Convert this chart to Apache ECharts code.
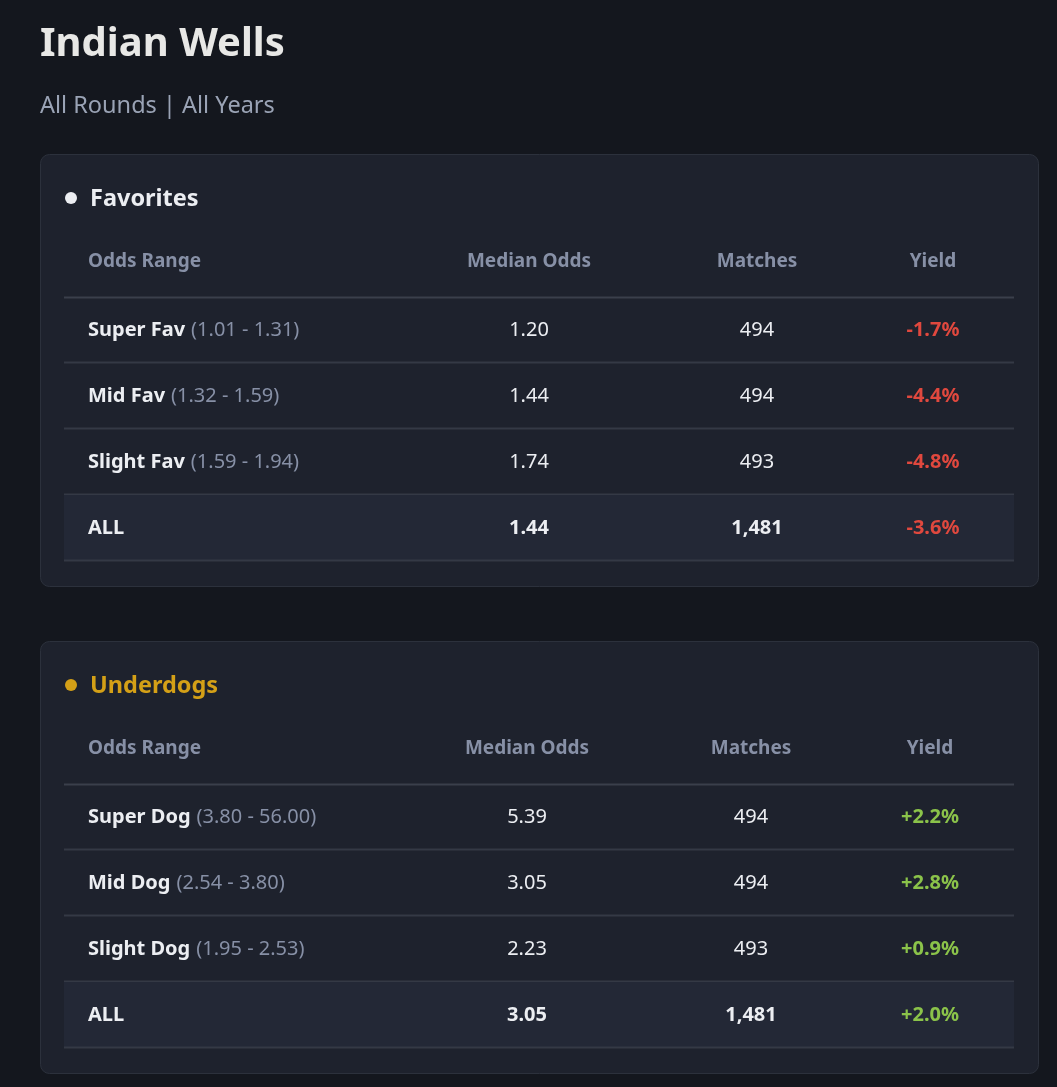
<!DOCTYPE html>
<html>
<head>
<meta charset="utf-8">
<script src="https://cdn.jsdelivr.net/npm/echarts@6/dist/echarts.min.js"></script>
<style>
  html, body { margin: 0; padding: 0; background: #14171e; }
  #main { width: 1057px; height: 1087px; }
</style>
</head>
<body>
<div id="main"></div>
<script>
// table data
var columns = ["Odds Range", "Median Odds", "Matches", "Yield"];

var favLabels = ["Super Fav", "Mid Fav", "Slight Fav", "ALL"];
var favRanges = ["(1.01 - 1.31)", "(1.32 - 1.59)", "(1.59 - 1.94)", ""];
var favMedian = [1.20, 1.44, 1.74, 1.44];
var favMatches = [494, 494, 493, 1481];
var favYield = [-1.7, -4.4, -4.8, -3.6];

var dogLabels = ["Super Dog", "Mid Dog", "Slight Dog", "ALL"];
var dogRanges = ["(3.80 - 56.00)", "(2.54 - 3.80)", "(1.95 - 2.53)", ""];
var dogMedian = [5.39, 3.05, 2.23, 3.05];
var dogMatches = [494, 494, 493, 1481];
var dogYield = [2.2, 2.8, 0.9, 2.0];

var FONT = "'Noto Sans', sans-serif";
var WHITE = "#eceef2";
var MUTED = "#8790a6";
var RED = "#e0483e";
var GREEN = "#8bc34a";
var GOLD = "#d4a017";

function fmtInt(n) { return n.toLocaleString("en-US"); }
function fmtYield(v) { return (v > 0 ? "+" : "") + v.toFixed(1) + "%"; }

// table layout: card top, header line y, column x (left for first, centre for rest)
var tables = [
  { title: "Favorites", dot: WHITE, titleColor: WHITE, cardTop: 154, lineY: 297,
    cols: [24, 465, 693, 869],
    labels: favLabels, ranges: favRanges, median: favMedian, matches: favMatches, yld: favYield },
  { title: "Underdogs", dot: GOLD, titleColor: GOLD, cardTop: 641, lineY: 784,
    cols: [24, 463, 687, 866],
    labels: dogLabels, ranges: dogRanges, median: dogMedian, matches: dogMatches, yld: dogYield }
];

var ROW_H = 66;
var TABLE_LEFT = 64, TABLE_W = 950;

var grids = [], xAxes = [], yAxes = [], series = [], graphics = [];

graphics.push({ type: "text", x: 40, y: 45, z: 5,
  style: { text: "Indian Wells", fill: "#e8e8e6", font: "bold 40px " + FONT, textVerticalAlign: "middle" } });
graphics.push({ type: "text", x: 40, y: 106, z: 5,
  style: { text: "All Rounds | All Years", fill: "#9aa3b5", font: "23.5px " + FONT, textVerticalAlign: "middle" } });

tables.forEach(function (t, ti) {
  var n = t.labels.length;
  grids.push({ left: TABLE_LEFT, width: TABLE_W, top: t.lineY, height: n * ROW_H });
  xAxes.push({ gridIndex: ti, type: "value", min: 0, max: TABLE_W, show: false });
  yAxes.push({ gridIndex: ti, type: "category", data: t.labels, inverse: true, show: false });

  // card
  graphics.push({ type: "rect", z: 0,
    shape: { x: 40.5, y: t.cardTop + 0.5, width: 998, height: 432, r: 9 },
    style: { fill: "#1e222d", stroke: "#2c313c", lineWidth: 1 } });
  graphics.push({ type: "circle", z: 5,
    shape: { cx: 71, cy: t.cardTop + 44, r: 6 }, style: { fill: t.dot } });
  graphics.push({ type: "text", z: 5, x: 90, y: t.cardTop + 45,
    style: { text: t.title, fill: t.titleColor, font: "bold 23.5px " + FONT, textVerticalAlign: "middle" } });
  // column headers
  columns.forEach(function (c, ci) {
    graphics.push({ type: "text", z: 5, x: TABLE_LEFT + t.cols[ci], y: t.lineY - 35,
      style: { text: c, fill: MUTED, font: "bold 19px " + FONT,
        textAlign: ci === 0 ? "left" : "center", textVerticalAlign: "middle" } });
  });
  graphics.push({ type: "line", z: 5,
    shape: { x1: TABLE_LEFT, y1: t.lineY + 0.5, x2: TABLE_LEFT + TABLE_W, y2: t.lineY + 0.5 },
    style: { stroke: "#3a3f4b", lineWidth: 2 } });

  series.push({
    type: "custom",
    xAxisIndex: ti, yAxisIndex: ti,
    data: t.labels.map(function (l, i) { return [0, i]; }),
    renderItem: function (params, api) {
      var i = api.value(1);
      var p = api.coord([0, i]);
      var band = api.size([0, 1])[1];
      var isAll = t.labels[i] === "ALL";
      var kids = [];
      if (isAll) {
        kids.push({ type: "rect", shape: { x: p[0], y: p[1] - band / 2, width: TABLE_W, height: band },
          style: { fill: "#232836" } });
      }
      kids.push({ type: "line",
        shape: { x1: p[0], y1: p[1] + band / 2 - 0.5, x2: p[0] + TABLE_W, y2: p[1] + band / 2 - 0.5 },
        style: { stroke: "#343945", lineWidth: 2 } });
      var c1 = api.coord([t.cols[0], i]);
      kids.push({ type: "text", x: c1[0], y: c1[1],
        style: {
          text: "{b|" + t.labels[i] + "}" + (t.ranges[i] ? "{r|" + t.ranges[i] + "}" : ""),
          textVerticalAlign: "middle", textAlign: "left",
          rich: {
            b: { fill: WHITE, fontFamily: FONT, fontWeight: "bold", fontSize: 20 },
            r: { fill: MUTED, fontFamily: FONT, fontSize: 20, padding: [0, 0, 0, 6] }
          }
        } });
      var w = isAll ? "bold " : "";
      var vals = [t.median[i].toFixed(2), fmtInt(t.matches[i])];
      vals.forEach(function (v, k) {
        var c = api.coord([t.cols[k + 1], i]);
        kids.push({ type: "text", x: c[0], y: c[1],
          style: { text: v, fill: WHITE, font: w + "20px " + FONT, textAlign: "center", textVerticalAlign: "middle" } });
      });
      var cy = api.coord([t.cols[3], i]);
      kids.push({ type: "text", x: cy[0], y: cy[1],
        style: { text: fmtYield(t.yld[i]), fill: t.yld[i] < 0 ? RED : GREEN,
          font: "bold 20px " + FONT, textAlign: "center", textVerticalAlign: "middle" } });
      return { type: "group", children: kids };
    }
  });
});

var myChart = echarts.init(document.getElementById("main"));
myChart.setOption({
  backgroundColor: "#14171e",
  animation: false,
  grid: grids,
  xAxis: xAxes,
  yAxis: yAxes,
  graphic: graphics,
  series: series
});
</script>
</body>
</html>
